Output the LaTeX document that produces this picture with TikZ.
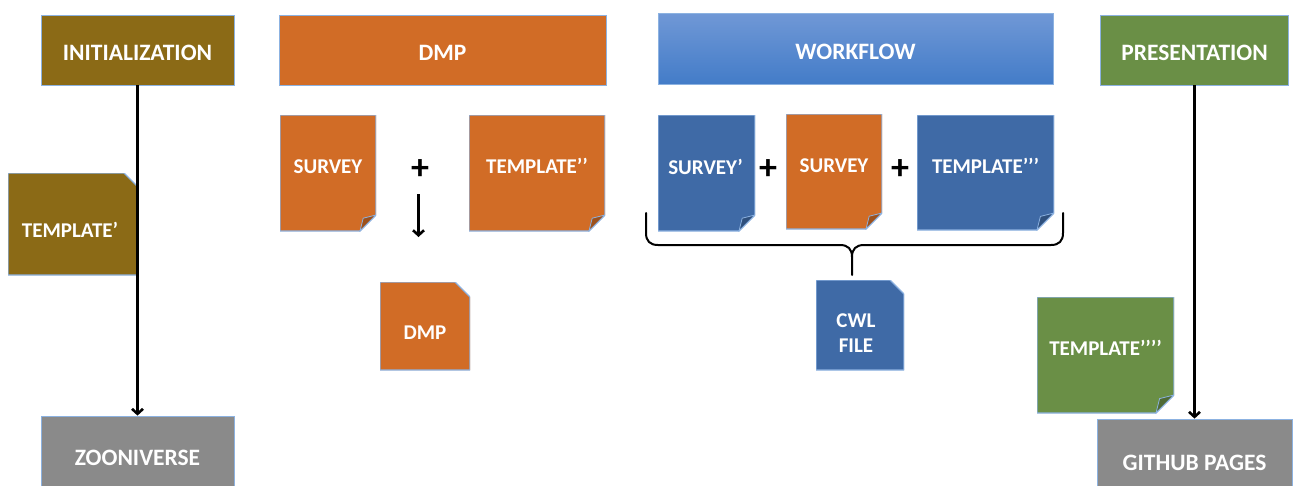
\documentclass[tikz,border=0pt]{standalone}
\usepackage{fontspec}
\setmainfont{Carlito}
\usetikzlibrary{arrows.meta}

\definecolor{olive}{RGB}{139,106,22}
\definecolor{rust}{RGB}{209,108,38}
\definecolor{steel}{RGB}{63,106,166}
\definecolor{wfTop}{RGB}{112,152,214}
\definecolor{wfBot}{RGB}{67,124,200}
\definecolor{leaf}{RGB}{106,143,70}
\definecolor{slate}{RGB}{138,138,138}
\definecolor{edge}{RGB}{140,178,225}

\tikzset{
  x=1pt, y=-1pt,
  hdr/.style={rectangle, draw=edge, line width=0.8pt, fill=#1, text=white,
    font=\bfseries\fontsize{23.5}{26}\selectfont, inner sep=0pt,
    text height=21pt, text depth=0pt},
  lbl/.style={text=white, font=\bfseries\fontsize{21}{25}\selectfont, align=center},
  % sheet with a folded bottom-right corner
  folded/.style n args={2}{rectangle, inner sep=0pt, path picture={
    \filldraw[fill=#1, draw=edge, line width=1.2pt]
      (path picture bounding box.north west) -- (path picture bounding box.north east)
      -- ([yshift=#2]path picture bounding box.south east)
      -- ([xshift=-#2]path picture bounding box.south east)
      -- (path picture bounding box.south west) -- cycle;
    \filldraw[fill=#1!75!black, draw=edge, line width=0.8pt]
      ([xshift=-#2]path picture bounding box.south east)
      -- ([xshift={-0.8*#2}, yshift={0.8*#2}]path picture bounding box.south east)
      -- ([yshift=#2]path picture bounding box.south east) -- cycle;
  }},
  % sheet with a snipped top-right corner
  snipped/.style n args={2}{rectangle, inner sep=0pt, path picture={
    \filldraw[fill=#1, draw=edge, line width=1.2pt]
      (path picture bounding box.north west)
      -- ([xshift=-#2]path picture bounding box.north east)
      -- ([yshift=-#2]path picture bounding box.north east)
      -- (path picture bounding box.south east)
      -- (path picture bounding box.south west) -- cycle;
  }},
  plus/.style={font=\bfseries\fontsize{36}{36}\selectfont, inner sep=0pt},
  flow/.style={line width=2.6pt, -{Straight Barb[length=5pt, width=11pt]}},
  brace/.style={line width=2pt, line cap=round},
}

\begin{document}
\begin{tikzpicture}
\useasboundingbox (0,0) rectangle (1293,485);
\clip (0,0) rectangle (1293,485);

% column heads
\node[hdr=olive, minimum width=193pt, minimum height=70pt] (init) at (137.5,50) {INITIALIZATION};
\node[hdr=rust, minimum width=327pt, minimum height=70pt] (dmphead) at (442.5,50) {DMP};
\node[hdr=wfBot, top color=wfTop, bottom color=wfBot, minimum width=395pt, minimum height=71pt] (wfhead) at (855.5,48.5) {WORKFLOW};
\node[hdr=leaf, minimum width=188pt, minimum height=70pt] (pres) at (1194.5,50) {PRESENTATION};

% targets
\node[hdr=slate, minimum width=193pt, minimum height=78pt] (zoo) at (137.5,455) {ZOONIVERSE};
\node[hdr=slate, minimum width=195pt, minimum height=82pt] (gh) at (1194.5,460) {GITHUB PAGES};

% initialization column
\node[snipped={olive}{14pt}, minimum width=130pt, minimum height=102pt,
  label={[lbl, xshift=-3pt, yshift=-6pt]center:TEMPLATE’}] (tpl1) at (73,224) {};

% DMP column
\node[folded={rust}{16pt}, minimum width=96pt, minimum height=116pt,
  label={[lbl, yshift=6pt]center:SURVEY}] (survA) at (328,173) {};
\node[plus] (plusA) at (420,170) {+};
\node[folded={rust}{16pt}, minimum width=136pt, minimum height=116pt,
  label={[lbl, yshift=7pt]center:TEMPLATE’’}] (tpl2) at (537,173) {};
\coordinate (dmpFrom) at (418.5,194);
\coordinate (dmpTo) at (418.5,237);
\draw[flow] (dmpFrom) -- (dmpTo);
\node[snipped={rust}{15pt}, minimum width=90pt, minimum height=88pt,
  label={[lbl, yshift=-7pt]center:DMP}] (dmpdoc) at (425,326) {};

% workflow column
\node[folded={steel}{16pt}, minimum width=97pt, minimum height=116pt,
  label={[lbl, xshift=-1pt, yshift=6pt]center:SURVEY’}] (survB) at (706.5,173) {};
\node[plus] (plusB) at (768,170) {+};
\node[folded={rust}{16pt}, minimum width=96pt, minimum height=115pt,
  label={[lbl, yshift=6pt]center:SURVEY}] (survC) at (834,171.5) {};
\node[plus] (plusC) at (900,170) {+};
\node[folded={steel}{17pt}, minimum width=137pt, minimum height=115pt,
  label={[lbl, yshift=7pt]center:TEMPLATE’’’}] (tpl3) at (985.5,172.5) {};
\draw[brace] (646,213) -- (646,233)
  .. controls (646,241) and (650,245) .. (658,245) -- (840,245)
  .. controls (848,245) and (852,249) .. (852,257) -- (852,275);
\draw[brace] (1063,213) -- (1063,233)
  .. controls (1063,241) and (1059,245) .. (1051,245) -- (864,245)
  .. controls (856,245) and (852,249) .. (852,257);
\node[snipped={steel}{14pt}, minimum width=88pt, minimum height=90pt,
  label={[lbl, xshift=-4pt, yshift=-8pt]center:CWL\\FILE}] (cwl) at (860,325) {};

% presentation column
\node[folded={leaf}{18pt}, minimum width=137pt, minimum height=116pt,
  label={[lbl, yshift=7pt]center:TEMPLATE’’’’}] (tpl4) at (1105.5,355) {};

% main flows
\draw[flow] (init) -- (zoo);
\draw[flow] (pres) -- (gh);
\end{tikzpicture}
\end{document}
